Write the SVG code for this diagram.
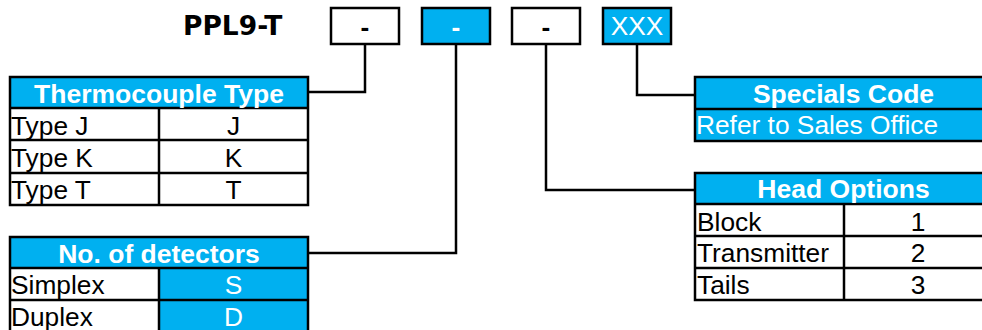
<svg xmlns="http://www.w3.org/2000/svg" width="982" height="330" viewBox="0 0 982 330">
<style>
.box{stroke:#000;stroke-width:2.5}
.w{fill:#fff}
.b{fill:#00B0F0}
.cell{fill:none;stroke:#000;stroke-width:2.5}
.t{font-family:"Liberation Sans",Arial,sans-serif;font-size:26.3px;fill:#000}
.tw{font-family:"Liberation Sans",Arial,sans-serif;font-size:26.3px;fill:#fff}
.h{font-family:"Liberation Sans",Arial,sans-serif;font-size:26.5px;font-weight:bold;fill:#fff;text-anchor:middle}
.c{text-anchor:middle}
.conn{fill:none;stroke:#000;stroke-width:2.5}
</style>
<rect width="982" height="330" fill="#fff"/>
<g id="title">
<text x="183" y="35" style="font-family:'DejaVu Sans',Verdana,sans-serif;font-size:26.5px;font-weight:bold;fill:#000">PPL9-T</text>
</g>
<g id="code-boxes">
<g id="box1"><rect class="box w" x="331" y="8" width="68" height="36"/><text class="t c" x="365" y="36" style="font-weight:bold">-</text></g>
<g id="box2"><rect class="box b" x="422" y="8" width="68" height="36"/><text class="tw c" x="456" y="36" style="font-weight:bold">-</text></g>
<g id="box3"><rect class="box w" x="512" y="8" width="68" height="36"/><text class="t c" x="546" y="36" style="font-weight:bold">-</text></g>
<g id="box4"><rect class="box b" x="603" y="8" width="68" height="36"/><text class="tw c" x="637" y="35">XXX</text></g>
</g>
<g id="connectors">
<polyline class="conn" points="365,44 365,92 308,92"/>
<polyline class="conn" points="456,44 456,253 308,253"/>
<polyline class="conn" points="546,44 546,190 695,190"/>
<polyline class="conn" points="637,44 637,95 695,95"/>
</g>
<g id="thermocouple-type">
<rect class="b" x="10" y="77" width="298" height="31"/>
<rect class="cell" x="10" y="77" width="298" height="128"/>
<line class="cell" x1="10" y1="108" x2="308" y2="108"/>
<line class="cell" x1="10" y1="140" x2="308" y2="140"/>
<line class="cell" x1="10" y1="173" x2="308" y2="173"/>
<line class="cell" x1="159" y1="108" x2="159" y2="205"/>
<text class="h" x="159" y="102.5">Thermocouple Type</text>
<text class="t" x="11" y="135">Type J</text><text class="t c" x="233.5" y="135">J</text>
<text class="t" x="11" y="167">Type K</text><text class="t c" x="233.5" y="167">K</text>
<text class="t" x="11" y="198.5">Type T</text><text class="t c" x="233.5" y="198.5">T</text>
</g>
<g id="no-of-detectors">
<rect class="b" x="10" y="237" width="298" height="31"/>
<rect class="b" x="159" y="268" width="149" height="70"/>
<rect class="cell" x="10" y="237" width="298" height="101"/>
<line class="cell" x1="10" y1="268" x2="308" y2="268"/>
<line class="cell" x1="10" y1="300" x2="308" y2="300"/>
<line class="cell" x1="159" y1="268" x2="159" y2="338"/>
<text class="h" x="159" y="262.5">No. of detectors</text>
<text class="t" x="11" y="294">Simplex</text><text class="tw c" x="233.5" y="294">S</text>
<text class="t" x="11" y="326">Duplex</text><text class="tw c" x="233.5" y="326">D</text>
</g>
<g id="specials-code">
<rect class="b" x="695" y="77" width="297" height="64"/>
<rect class="cell" x="695" y="77" width="297" height="64"/>
<line class="cell" x1="695" y1="109" x2="992" y2="109"/>
<text class="h" x="843.5" y="102.5">Specials Code</text>
<text class="tw" x="696" y="134">Refer to Sales Office</text>
</g>
<g id="head-options">
<rect class="b" x="695" y="173" width="297" height="31"/>
<rect class="cell" x="695" y="173" width="297" height="127"/>
<line class="cell" x1="695" y1="204" x2="992" y2="204"/>
<line class="cell" x1="695" y1="236" x2="992" y2="236"/>
<line class="cell" x1="695" y1="268" x2="992" y2="268"/>
<line class="cell" x1="844" y1="204" x2="844" y2="300"/>
<text class="h" x="843.5" y="198">Head Options</text>
<text class="t" x="697" y="230.5">Block</text><text class="t c" x="918" y="230.5">1</text>
<text class="t" x="697" y="262">Transmitter</text><text class="t c" x="918" y="262">2</text>
<text class="t" x="697" y="293.5">Tails</text><text class="t c" x="918" y="293.5">3</text>
</g>
</svg>
